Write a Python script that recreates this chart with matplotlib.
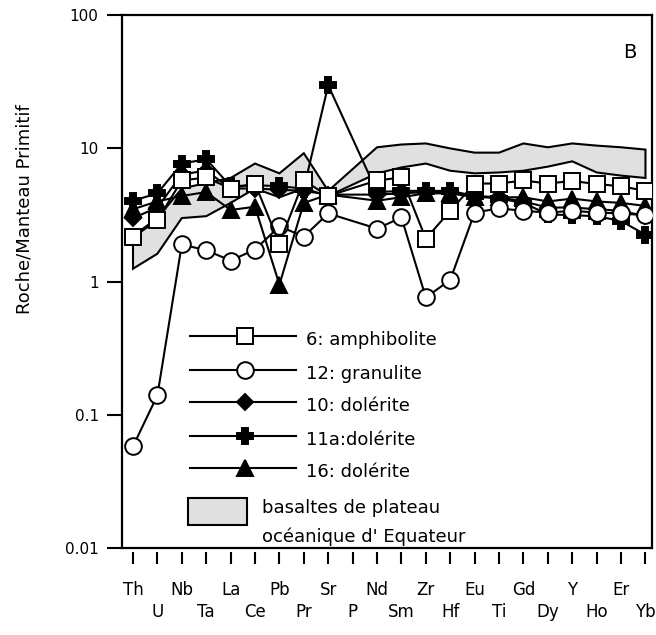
import numpy as np
import matplotlib
matplotlib.use("Agg")
import matplotlib.pyplot as plt
from matplotlib.lines import Line2D
from matplotlib.patches import Rectangle

plt.rcParams['font.family'] = ['DejaVu Sans']

elements = ['Th', 'U', 'Nb', 'Ta', 'La', 'Ce', 'Pb', 'Pr', 'Sr', 'P', 'Nd',
            'Sm', 'Zr', 'Hf', 'Eu', 'Ti', 'Gd', 'Dy', 'Y', 'Ho', 'Er', 'Yb']
nan = np.nan

# normalised values (P not analysed)
amph_6 = [2.15, 2.9, 5.75, 6.05, 5.0, 5.45, 1.93, 5.75, 4.4, nan, 5.75,
          6.05, 2.1, 3.4, 5.45, 5.45, 5.75, 5.45, 5.7, 5.4, 5.2, 4.8]
gran_12 = [0.058, 0.14, 1.9, 1.72, 1.44, 1.74, 2.6, 2.18, 3.25, nan, 2.5,
           3.03, 0.76, 1.03, 3.3, 3.55, 3.4, 3.3, 3.4, 3.3, 3.25, 3.15]
dol_10 = [3.0, 3.6, 6.4, 6.8, 5.0, 5.0, 4.9, 4.8, 4.5, nan, 4.5,
          4.6, 4.7, 4.7, 4.4, 4.3, 4.0, 3.6, 3.6, 3.5, 3.4, 3.1]
dol_11a = [4.05, 4.6, 7.7, 8.3, 5.2, 5.3, 5.2, 5.0, 29.8, nan, 4.7,
           4.8, 4.8, 4.8, 4.4, 4.2, 3.9, 3.2, 3.15, 3.1, 2.85, 2.25]
dol_16 = [3.5, 4.0, 4.4, 4.7, 3.45, 3.65, 0.95, 3.9, 4.5, nan, 4.05,
          4.3, 4.6, 4.6, 4.3, 4.3, 4.3, 4.0, 4.2, 4.0, 3.9, 3.7]

# Ecuador oceanic plateau basalts envelope
band_top = [2.2, 3.0, 5.0, 5.5, 6.0, 7.7, 6.5, 9.2, 4.8, nan, 10.2,
            10.7, 10.9, 10.0, 9.3, 9.3, 10.9, 10.2, 10.9, 10.5, 10.2, 9.8]
band_bot = [1.25, 1.62, 3.0, 3.1, 3.9, 5.0, 4.3, 5.0, 4.4, nan, 6.5,
            7.2, 7.7, 6.8, 6.5, 6.6, 6.8, 7.3, 8.0, 6.6, 6.25, 6.0]

yticks = [0.01, 0.1, 1, 10, 100]
ytick_labels = ['0.01', '0.1', '1', '10', '100']

x = np.arange(len(elements))

fig = plt.figure(figsize=(6.56, 6.35), dpi=100)
ax = fig.add_axes([0.186, 0.137, 0.808, 0.839])

def valid(vals):
    v = np.array(vals, dtype=float)
    m = ~np.isnan(v)
    return x[m], v[m]

# band
bx, bt = valid(band_top)
_, bb = valid(band_bot)
poly_x = np.concatenate([bx, bx[::-1]])
poly_y = np.concatenate([bt, bb[::-1]])
ax.fill(poly_x, poly_y, facecolor='#e0e0e0', edgecolor='black', lw=1.5, zorder=1)

series = [
    (dol_16, '^', 'black', 11),
    (dol_10, 'D', 'black', 8),
    (dol_11a, 'P', 'black', 12),
    (gran_12, 'o', 'white', 12),
    (amph_6, 's', 'white', 12),
]
for i, (vals, mk, fc, ms) in enumerate(series):
    sx, sy = valid(vals)
    ax.plot(sx, sy, color='black', lw=1.5, marker=mk, markersize=ms,
            markerfacecolor=fc, markeredgecolor='black', markeredgewidth=1.4,
            zorder=2 + i)

ax.set_yscale('log')
ax.set_ylim(0.01, 100)
ax.set_xlim(-0.45, 21.27)
ax.set_yticks(yticks)
ax.set_yticklabels(ytick_labels, fontsize=11)
ax.yaxis.set_minor_locator(matplotlib.ticker.NullLocator())
ax.tick_params(axis='y', direction='out', length=10.8, width=1.5, pad=6)

ax.set_xticks(x)
ax.set_xticklabels([''] * len(x))
ax.tick_params(axis='x', direction='out', length=8.6, width=1.5)
ax.spines['bottom'].set_position(('outward', 3))
ax.spines['bottom'].set_visible(False)
ax.axhline(0.01, color='black', lw=1.6, clip_on=False, zorder=10)
for s in ['left', 'right', 'top']:
    ax.spines[s].set_linewidth(1.6)

trans = matplotlib.transforms.blended_transform_factory(ax.transData, ax.transAxes)
for i, el in enumerate(elements):
    yy = -0.079 if i % 2 == 0 else -0.121
    ax.text(i, yy, el, transform=trans, ha='center', va='center', fontsize=12)

fig.text(25 / 656, 1 - 209 / 635, 'Roche/Manteau Primitif', rotation=90,
         ha='center', va='center', fontsize=13)
ax.text(0.958, 0.93, 'B', transform=ax.transAxes, ha='center', va='center',
        fontsize=14)

# legend drawn by hand in axes coordinates
def ax_pt(px, py):
    return (px - 122) / 530, (548 - py) / 533

legend_rows = [
    ('6: amphibolite', 's', 'white', 12, 336),
    ('12: granulite', 'o', 'white', 12, 370),
    ('10: dolérite', 'D', 'black', 8, 402),
    ('11a:dolérite', 'P', 'black', 12, 436),
    ('16: dolérite', '^', 'black', 11, 468),
]
for label, mk, fc, ms, py in legend_rows:
    x0, y0 = ax_pt(190, py)
    x1, _ = ax_pt(296, py)
    xm, _ = ax_pt(245, py)
    ax.add_line(Line2D([x0, x1], [y0, y0], color='black', lw=1.5,
                       transform=ax.transAxes, zorder=20))
    ax.add_line(Line2D([xm], [y0], marker=mk, markersize=ms, markerfacecolor=fc,
                       markeredgecolor='black', markeredgewidth=1.4,
                       transform=ax.transAxes, zorder=21))
    tx, ty = ax_pt(306, py + 4)
    ax.text(tx, ty, label, transform=ax.transAxes, ha='left', va='center',
            fontsize=13, zorder=21)

rx, ry = ax_pt(188, 525)
rx1, ry1 = ax_pt(247, 498)
ax.add_patch(Rectangle((rx, ry), rx1 - rx, ry1 - ry, transform=ax.transAxes,
                       facecolor='#e0e0e0', edgecolor='black', lw=1.5, zorder=20))
tx, ty = ax_pt(262, 508)
ax.text(tx, ty, 'basaltes de plateau', transform=ax.transAxes, ha='left',
        va='center', fontsize=13, zorder=21)
tx, ty = ax_pt(262, 537)
ax.text(tx, ty, "océanique d' Equateur", transform=ax.transAxes, ha='left',
        va='center', fontsize=13, zorder=21)

fig.savefig('out.png', dpi=100)
